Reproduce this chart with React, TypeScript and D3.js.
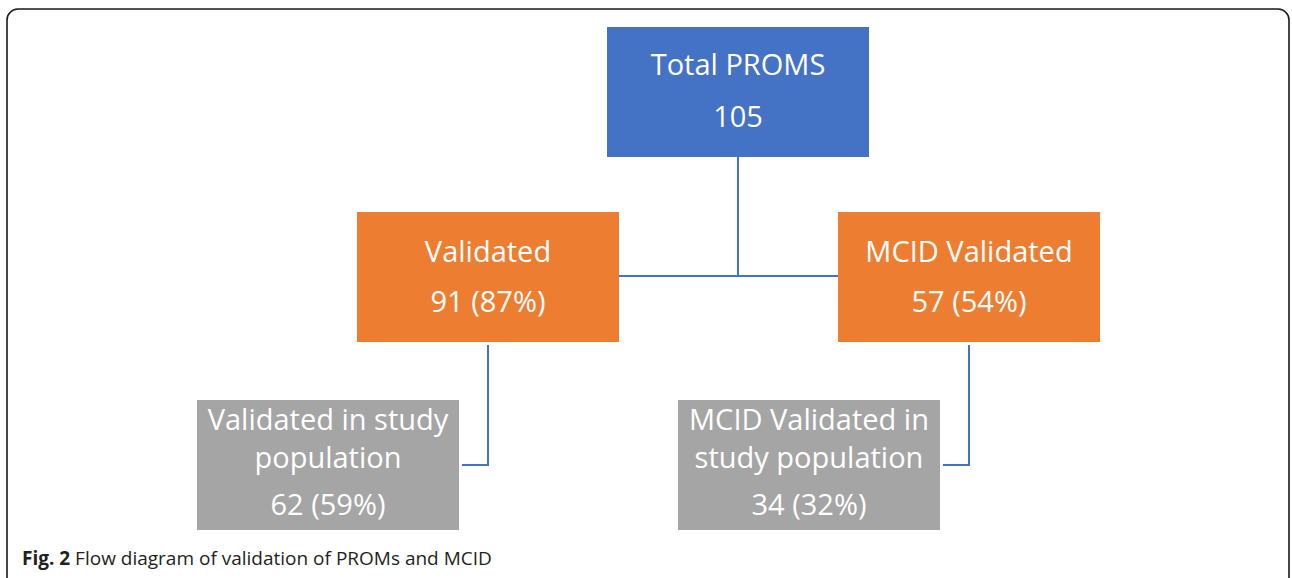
import React, { useEffect } from "react";
import * as d3 from "d3";

// flow diagram nodes
const nodeIds = ["total", "valid", "mcid", "validStudy", "mcidStudy"];
const nodeLabels = [
  ["Total PROMS"],
  ["Validated"],
  ["MCID Validated"],
  ["Validated in study", "population"],
  ["MCID Validated in", "study population"],
];
const nodeCounts = [105, 91, 57, 62, 34];
const nodePercents = [null, 87, 54, 59, 32];
const nodeLevel = [0, 1, 1, 2, 2];
const nodeParent = [null, "total", "total", "valid", "mcid"];

const W = 1292;
const H = 578;
const BOX_W = 262;
const BOX_H = 130;
const FONT = "'Open Sans', 'Noto Sans', sans-serif";
const fillByLevel = ["#4472C4", "#ED7D31", "#A5A5A5"];
const LINK = "#4472C4";

// box left x for each node
const xPos = d3.scaleOrdinal<string, number>().domain(nodeIds).range([607, 357, 838, 197, 678]);
const yPos = d3.scaleOrdinal<number, number>().domain([0, 1, 2]).range([27, 212, 400]);

export default function App() {
  useEffect(() => {
    document.body.style.margin = "0";
  }, []);

  const nodes = nodeIds.map((id, i) => ({
    id,
    label: nodeLabels[i],
    count: nodeCounts[i],
    pct: nodePercents[i],
    level: nodeLevel[i],
    parent: nodeParent[i],
    x: xPos(id),
    y: yPos(nodeLevel[i]),
  }));
  const byId = new Map(nodes.map((n) => [n.id, n]));

  const line = d3.line();
  const total = byId.get("total")!;
  const v = byId.get("valid")!;
  const m = byId.get("mcid")!;
  const midY = v.y + 64;
  const trunk = line([
    [total.x + BOX_W / 2, total.y + BOX_H],
    [total.x + BOX_W / 2, midY],
  ]);
  const bar = line([
    [v.x + BOX_W, midY],
    [m.x, midY],
  ]);
  const elbows = nodes
    .filter((n) => n.level === 2)
    .map((n) => {
      const p = byId.get(n.parent as string)!;
      const px = p.x + BOX_W / 2;
      const ey = n.y + 65;
      return line([
        [px, p.y + BOX_H + 3],
        [px, ey],
        [n.x + BOX_W + 3, ey],
      ]);
    });

  return (
    <svg width={W} height={H} style={{ display: "block", background: "#fff" }}>
      <rect x={7} y={9} width={1282} height={590} rx={11} fill="none" stroke="#1a1a1a" strokeWidth={1.6} />
      <path d={trunk!} stroke={LINK} strokeWidth={2} fill="none" />
      <path d={bar!} stroke={LINK} strokeWidth={2} fill="none" />
      {elbows.map((d, i) => (
        <path key={i} d={d!} stroke={LINK} strokeWidth={2} fill="none" />
      ))}
      {nodes.map((n) => {
        const cx = n.x + BOX_W / 2;
        const countText = n.pct == null ? `${n.count}` : `${n.count} (${n.pct}%)`;
        let baselines: number[];
        if (n.level === 0) baselines = [n.y + 48, n.y + 100];
        else if (n.level === 1) baselines = [n.y + 50, n.y + 100];
        else baselines = [n.y + 30, n.y + 68, n.y + 115];
        const lines = [...n.label, countText];
        return (
          <g key={n.id}>
            <rect x={n.x} y={n.y} width={BOX_W} height={BOX_H} fill={fillByLevel[n.level]} />
            {lines.map((t, j) => (
              <text
                key={j}
                x={cx}
                y={baselines[j]}
                textAnchor="middle"
                fill="#fff"
                fontFamily={FONT}
                fontSize={29}
              >
                {t}
              </text>
            ))}
          </g>
        );
      })}
      <text x={22} y={565} fontFamily={FONT} fontSize={19} fill="#231f20">
        <tspan fontWeight="bold">Fig. 2</tspan> Flow diagram of validation of PROMs and MCID
      </text>
    </svg>
  );
}
